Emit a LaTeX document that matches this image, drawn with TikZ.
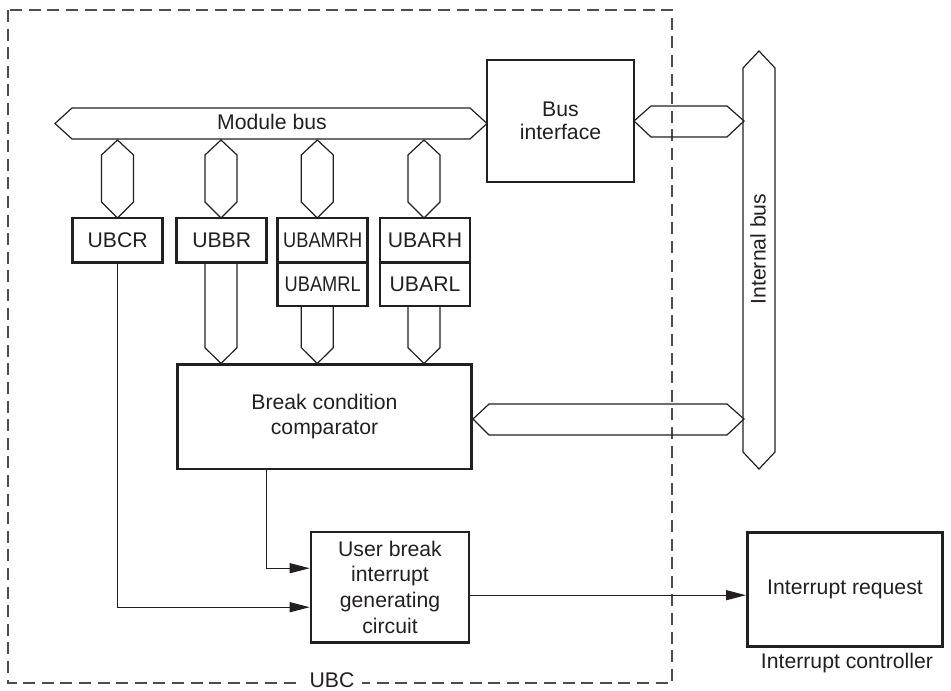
\documentclass[tikz,border=0pt]{standalone}
\usepackage{fontspec}
\setmainfont{Liberation Sans}
\usepackage{graphicx}
\usetikzlibrary{arrows.meta,calc}
\definecolor{ink}{HTML}{231F20}
\begin{document}
\begin{tikzpicture}[x=0.5pt,y=-0.5pt,
  txt/.style={text=ink,font=\fontsize{10.6}{12.8}\selectfont,align=center},
  blk/.style={txt,draw=ink,line width=1.3pt,inner sep=0pt},
  bus/.style={draw=ink,line width=0.6pt,line join=miter},
  conn/.style={draw=ink,line width=0.6pt},
  arr/.style={conn,-{Triangle[length=10pt,width=5pt]}},
  ubc/.style={draw=ink!80,line width=0.6pt,dash pattern=on 6pt off 3.3pt}]
\useasboundingbox (0,0) rectangle (951,690);

% UBC dashed frame
\draw[ubc] (8,10) rectangle (672,683);
\node[txt,fill=white,inner xsep=4pt,inner ysep=1pt] (ubclbl) at (332,680) {UBC};

% blocks
\node[blk,minimum width=73.5pt,minimum height=61pt] (busif) at (560.5,121) {Bus\\[-1pt]interface};
\node[blk,minimum width=45pt,minimum height=22.3pt] (ubcr) at (117.7,240.3) {UBCR};
\node[blk,minimum width=45pt,minimum height=22.3pt] (ubbr) at (221.7,240.3) {UBBR};
\node[blk,minimum width=45pt,minimum height=22pt] (ubamrh) at (322.7,240) {\scalebox{0.86}[1]{UBAMRH}};
\node[blk,minimum width=45pt,minimum height=21.8pt] (ubamrl) at (322.7,284) {\scalebox{0.86}[1]{UBAMRL}};
\node[blk,minimum width=45pt,minimum height=22pt] (ubarh) at (425,240) {UBARH};
\node[blk,minimum width=45pt,minimum height=21.8pt] (ubarl) at (425,284) {UBARL};
\node[blk,minimum width=147.2pt,minimum height=52.3pt] (comp) at (324.5,416.7) {Break condition\\comparator};
\node[blk,minimum width=79pt,minimum height=55.2pt] (ubigc) at (390,587.2) {User break\\interrupt\\generating\\circuit};
\node[blk,minimum width=97.7pt,minimum height=57.2pt] (irq) at (845,589.5) {Interrupt request};
\node[txt,anchor=center] (ctrl) at (847,663) {Interrupt controller};

% module bus
\draw[bus] (55,123.5) -- (72,108) -- (470,108) -- (487,123.5) -- (470,139) -- (72,139) -- cycle;
\node[txt] (mblbl) at (272,122) {Module bus};

% bus interface <-> internal bus
\draw[bus] (634,121) -- (651,106) -- (727,106) -- (744,121) -- (727,137) -- (651,137) -- cycle;
% comparator <-> internal bus
\draw[bus] (473,419) -- (489,404) -- (727,404) -- (744,419) -- (727,435) -- (489,435) -- cycle;
% internal bus
\draw[bus] (759,51) -- (775,68) -- (775,452) -- (759,469) -- (743,452) -- (743,68) -- cycle;
\node[txt,rotate=90] (iblbl) at (758,249) {Internal bus};

% module bus -> registers
\foreach \cx in {117.5,221,317.3,424}{
  \draw[bus] (\cx,140) -- (\cx+16,155) -- (\cx+16,202) -- (\cx,218) -- (\cx-16,202) -- (\cx-16,155) -- cycle;
}
% registers -> comparator
\draw[bus] (205,262.7) -- (205,347.7) -- (221,363.5) -- (237,347.7) -- (237,262.7);
\draw[bus] (301.3,305.7) -- (301.3,347.7) -- (317.3,363.5) -- (333.3,347.7) -- (333.3,305.7);
\draw[bus] (408,305.7) -- (408,347.7) -- (424,363.5) -- (440,347.7) -- (440,305.7);

% connectors
\coordinate (in1) at ($(ubigc.west)+(0,-19)$);
\coordinate (in2) at ($(ubigc.west)+(0,20)$);
\coordinate (cb) at ($(comp.south)+(-57.8,0)$);
\draw[arr] (cb) |- (in1);
\draw[arr] (ubcr.south) |- (in2);
\coordinate (out) at ($(ubigc.east)+(0,8)$);
\draw[arr] (out) -- (out -| irq.west);
\end{tikzpicture}
\end{document}
